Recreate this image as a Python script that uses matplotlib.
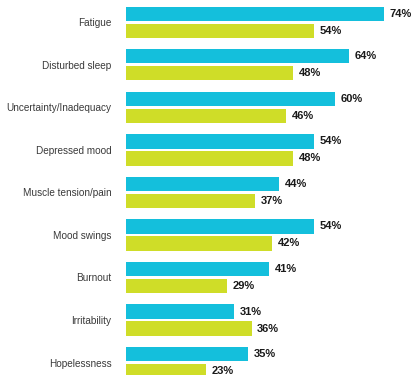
import matplotlib
matplotlib.use("Agg")
import numpy as np
import matplotlib.pyplot as plt

plt.rcParams['font.family'] = ['Liberation Sans', 'DejaVu Sans']

categories = ["Fatigue", "Disturbed sleep", "Uncertainty/Inadequacy", "Depressed mood",
              "Muscle tension/pain", "Mood swings", "Burnout", "Irritability", "Hopelessness"]
series_a = [74, 64, 60, 54, 44, 54, 41, 31, 35]
series_b = [54, 48, 46, 48, 37, 42, 29, 36, 23]

blue = "#14bfdc"
green = "#cfdd28"

fig = plt.figure(figsize=(4.13, 3.75), dpi=100)
ax = fig.add_axes([126 / 413, 0, 287 / 413, 1])

y = np.arange(len(categories))
off = 0.2
h = 0.33
bars_a = ax.barh(y - off, series_a, height=h, color=blue)
bars_b = ax.barh(y + off, series_b, height=h, color=green)

for bars, vals in ((bars_a, series_a), (bars_b, series_b)):
    for b, v in zip(bars, vals):
        ax.annotate(f"{v}%", (b.get_width(), b.get_y() + b.get_height() / 2),
                    xytext=(4, 0), textcoords="offset points", va="center", ha="left",
                    fontsize=8, fontweight="bold", color="#1a1a1a")

ax.set_xlim(0, 82.3)
ax.set_ylim(8.294, -0.529)
ax.set_yticks(y)
ax.set_yticklabels(categories, fontsize=7.2, color="#3a3a3a")
ax.tick_params(axis="y", length=0, pad=10.5)
ax.set_xticks([])
for s in ax.spines.values():
    s.set_visible(False)

fig.savefig("out.png", dpi=100)
